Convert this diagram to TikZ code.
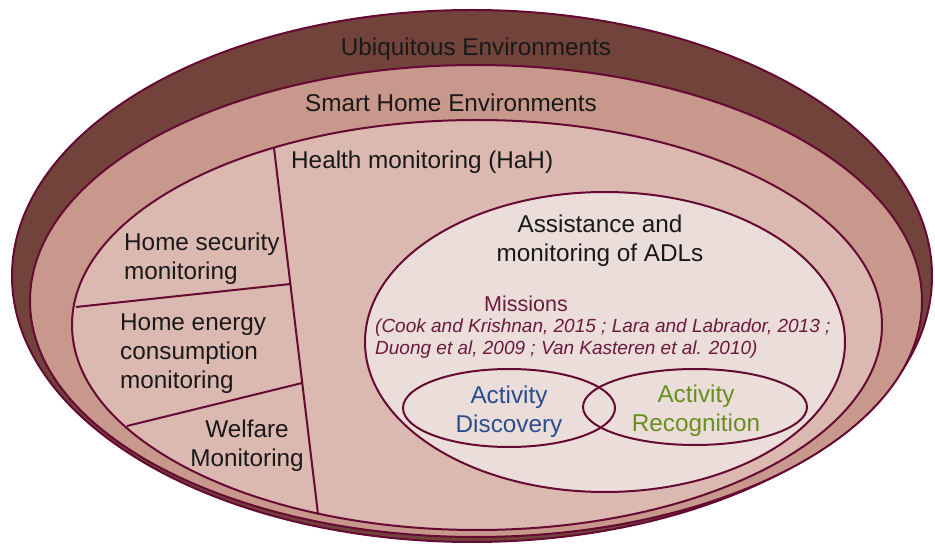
\documentclass[tikz,border=0pt]{standalone}
\usepackage{fontspec}
\setmainfont{Liberation Sans}
\usetikzlibrary{calc}
\definecolor{ubiq}{RGB}{114,67,58}
\definecolor{smart}{RGB}{199,152,139}
\definecolor{health}{RGB}{219,185,177}
\definecolor{adl}{RGB}{235,221,218}
\definecolor{edge}{RGB}{102,10,52}
\definecolor{mission}{RGB}{107,26,62}
\definecolor{discblue}{RGB}{42,78,140}
\definecolor{recgreen}{RGB}{104,142,30}
\tikzset{
  zone/.style={draw=edge, line width=2pt},
  divider/.style={draw=edge, line width=2pt},
  lbl/.style={inner sep=0pt, font=\fontsize{24.3}{29}\selectfont, text=black!90},
  cite/.style={inner sep=0pt, font=\fontsize{19}{22}\selectfont\itshape, text=mission, align=left},
}
\begin{document}
\begin{tikzpicture}[x=1pt,y=-1pt]
\useasboundingbox (0,0) rectangle (935,545);
% nested zones
\path[zone, fill=ubiq] (472,276) ellipse [x radius=460, y radius=266];
\path[zone, fill=smart] (476,301) ellipse [x radius=446, y radius=236];
\path[zone, fill=health] (477,325) ellipse [x radius=405, y radius=205];
% dividers inside health zone
\coordinate (vtop) at (274,148);
\coordinate (vbot) at (318,514);
\coordinate (secL) at (76,307);
\coordinate (secR) at ($(vtop)!0.3716!(vbot)$);
\coordinate (enL) at (127,426);
\coordinate (enR) at ($(vtop)!0.642!(vbot)$);
\draw[divider] (vtop) -- (vbot);
\draw[divider] (secL) -- (secR);
\draw[divider] (enL) -- (enR);
% ADL zone
\path[zone, fill=adl] (605,342) ellipse [x radius=240, y radius=150];
\draw[zone] (509,408) ellipse [x radius=106, y radius=39];
\draw[zone] (695,407) ellipse [x radius=112, y radius=38];
% labels
\node[lbl] (ubiqt) at (476,49) {Ubiquitous Environments};
\node[lbl] (smartt) at (451,103) {Smart Home Environments};
\node[lbl, anchor=west] (healtht) at (291,162) {Health monitoring (HaH)};
\node[lbl, align=center] (adlt) at (600,241) {Assistance and\\monitoring of ADLs};
\node[lbl, align=left, anchor=west] (sect) at (124,259) {Home security\\monitoring};
\node[lbl, align=left, anchor=west] (ent) at (120,354) {Home energy\\consumption\\monitoring};
\node[lbl, align=center] (welt) at (247,446) {Welfare\\Monitoring};
\node[inner sep=0pt, font=\fontsize{21.5}{26}\selectfont, text=mission] (mist) at (526,304) {Missions};
\node[cite, anchor=west] (citet) at (375,339) {(Cook and Krishnan, 2015 ; Lara and Labrador, 2013 ;\\Duong et al, 2009 ; Van Kasteren et al. 2010)};
\node[lbl, align=center, text=discblue] (disct) at (509,412) {Activity\\Discovery};
\node[lbl, align=center, text=recgreen] (rect) at (696,411) {Activity\\Recognition};
\end{tikzpicture}
\end{document}
